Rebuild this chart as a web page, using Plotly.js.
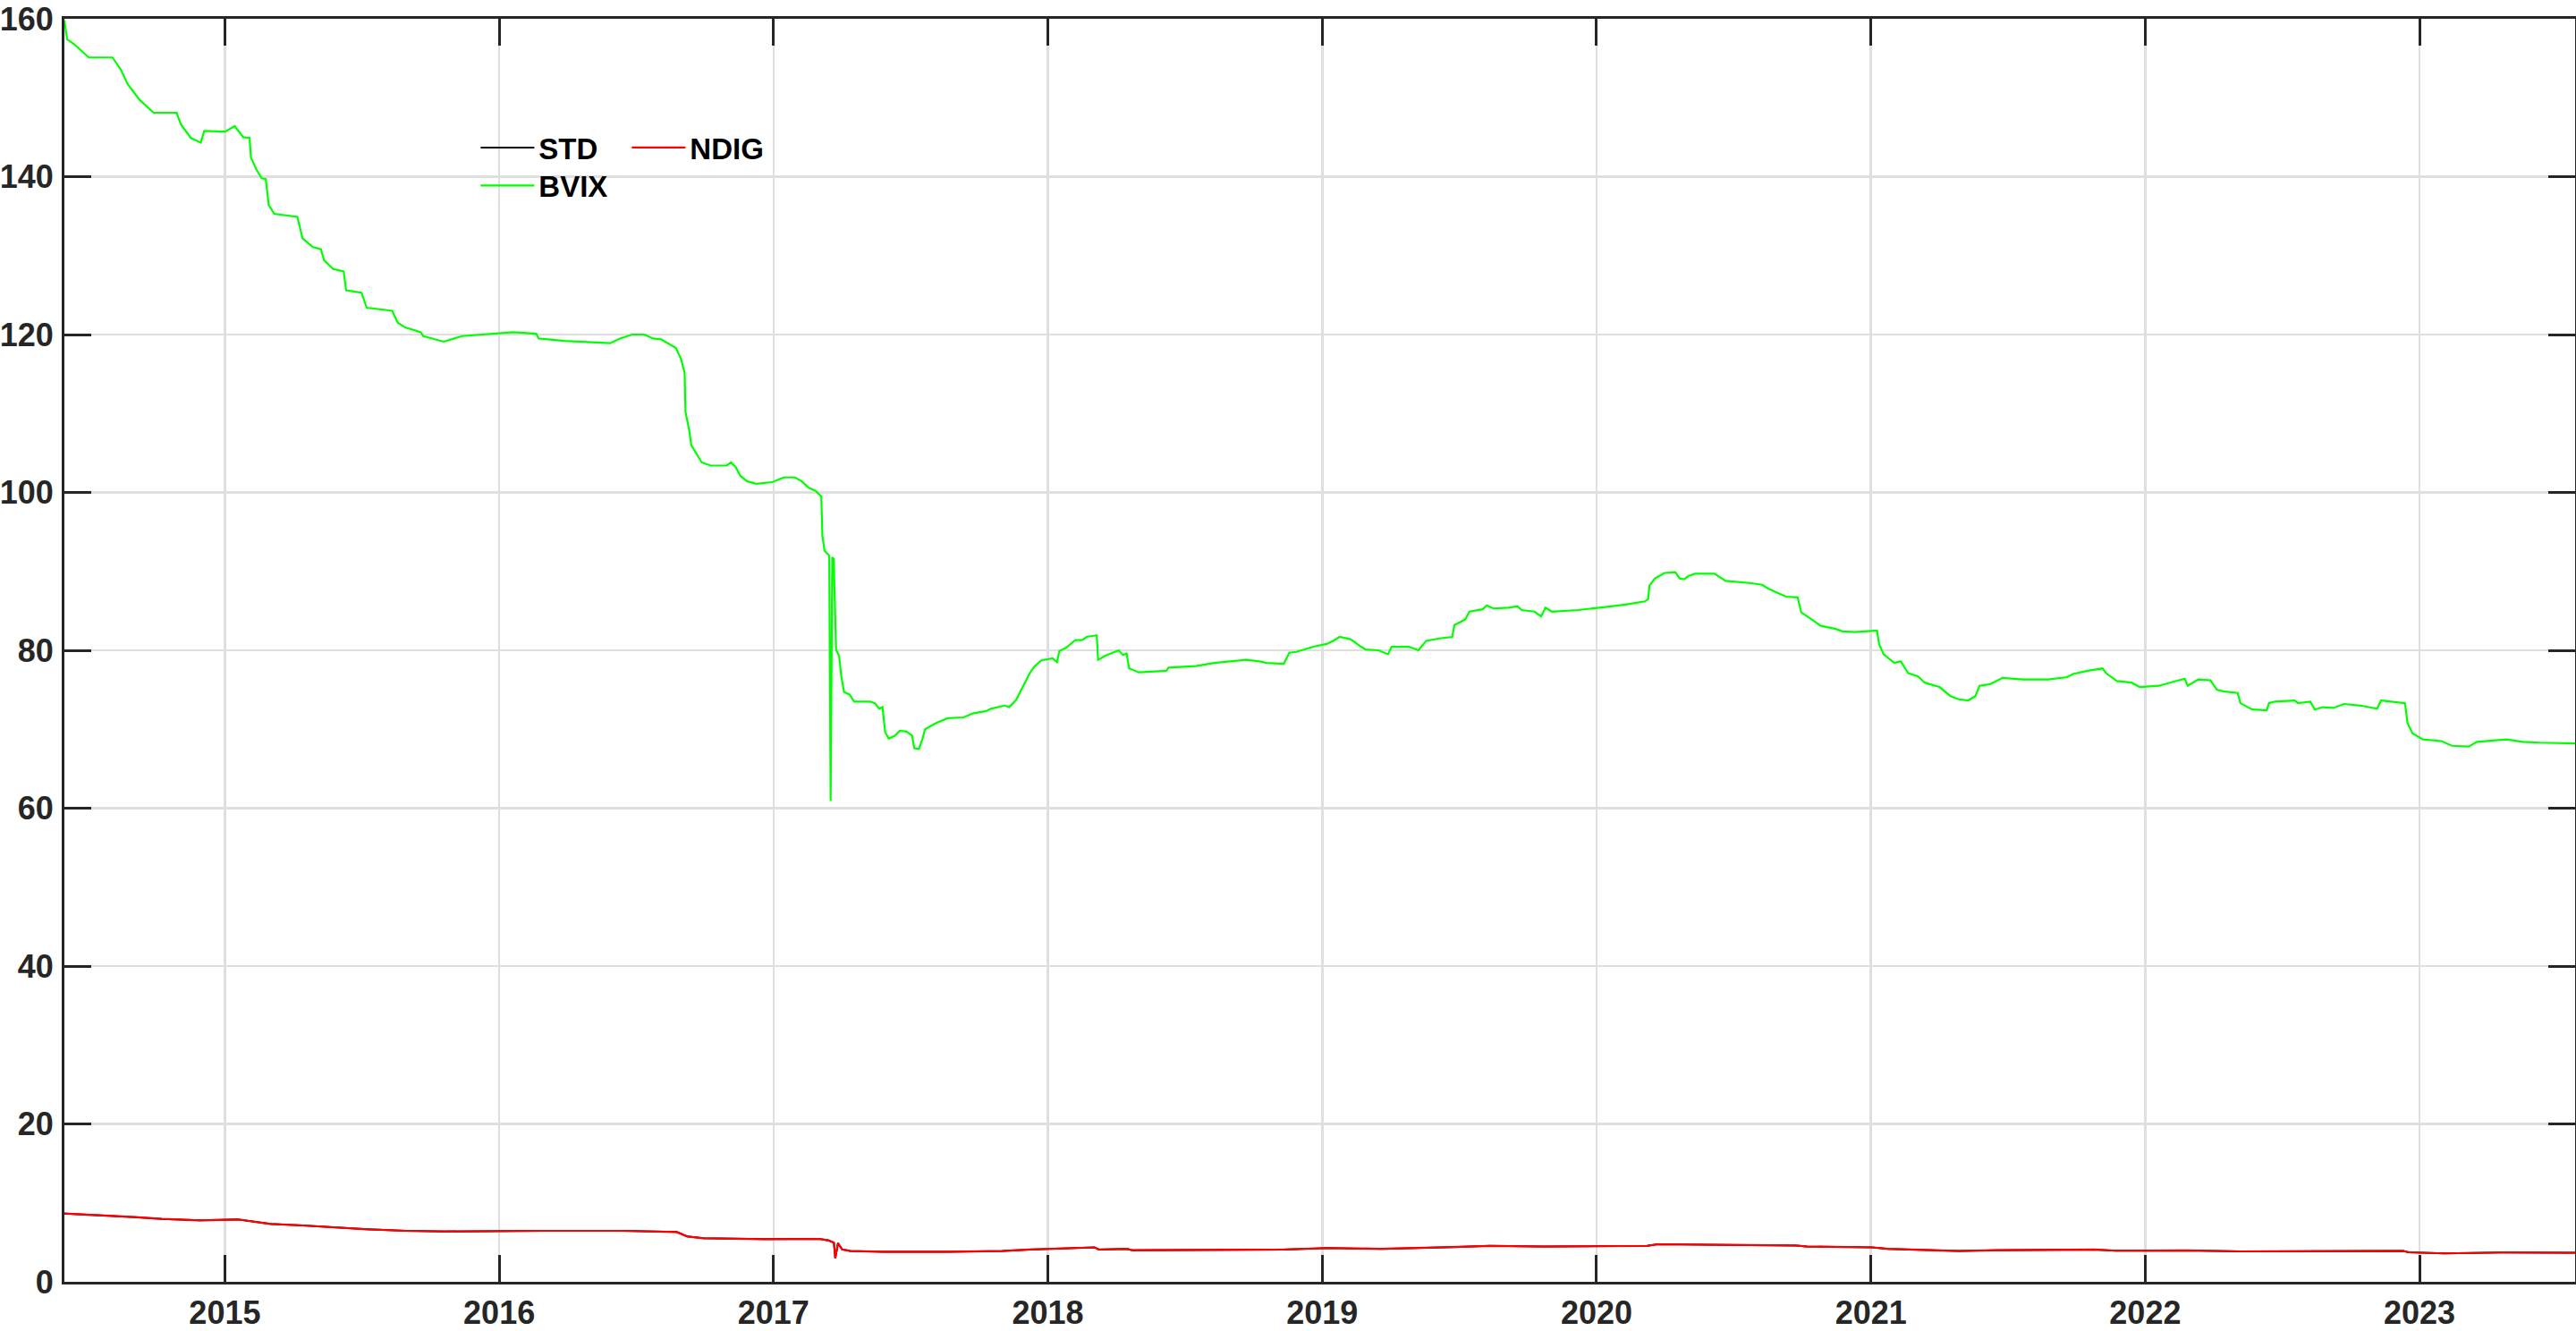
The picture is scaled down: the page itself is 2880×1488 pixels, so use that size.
<!DOCTYPE html>
<html>
<head>
<meta charset="utf-8">
<script src="https://cdn.plot.ly/plotly-3.0.1.min.js"></script>
<style>
  html, body { margin: 0; padding: 0; background: #fff; }
  #myPlot1 { width: 2880px; height: 1488px; }
</style>
</head>
<body>
<div id="myPlot1"></div>
<script>
// values, x in decimal years

var bvixT = [2014.415, 2014.425, 2014.45, 2014.504, 2014.59, 2014.62, 2014.646, 2014.69, 2014.74, 2014.824,
  2014.84, 2014.876, 2014.912, 2014.925, 2015.0, 2015.036, 2015.067, 2015.09, 2015.095, 2015.115,
  2015.134, 2015.149, 2015.16, 2015.18, 2015.264, 2015.283, 2015.32, 2015.35, 2015.362, 2015.395,
  2015.433, 2015.442, 2015.498, 2015.517, 2015.61, 2015.63, 2015.657, 2015.714, 2015.723, 2015.798,
  2015.864, 2015.994, 2016.05, 2016.135, 2016.144, 2016.238, 2016.33, 2016.404, 2016.44, 2016.485,
  2016.53, 2016.56, 2016.59, 2016.62, 2016.644, 2016.663, 2016.676, 2016.679, 2016.693, 2016.70,
  2016.72, 2016.738, 2016.77, 2016.829, 2016.845, 2016.862, 2016.879, 2016.904, 2016.937, 2016.995,
  2017.037, 2017.078, 2017.103, 2017.128, 2017.153, 2017.174, 2017.178, 2017.186, 2017.203, 2017.208,
  2017.214, 2017.219, 2017.228, 2017.239, 2017.247, 2017.257, 2017.277, 2017.294, 2017.352, 2017.369,
  2017.385, 2017.397, 2017.407, 2017.42, 2017.443, 2017.46, 2017.485, 2017.505, 2017.513, 2017.53,
  2017.543, 2017.552, 2017.593, 2017.635, 2017.693, 2017.726, 2017.776, 2017.792, 2017.842, 2017.859,
  2017.884, 2017.917, 2017.934, 2017.95, 2017.975, 2018.017, 2018.033, 2018.042, 2018.066, 2018.1,
  2018.125, 2018.141, 2018.178, 2018.183, 2018.208, 2018.258, 2018.274, 2018.287, 2018.296, 2018.332,
  2018.432, 2018.44, 2018.54, 2018.606, 2018.723, 2018.772, 2018.797, 2018.86, 2018.88, 2018.905,
  2018.968, 2019.016, 2019.04, 2019.063, 2019.103, 2019.142, 2019.158, 2019.205, 2019.24, 2019.253,
  2019.316, 2019.351, 2019.379, 2019.427, 2019.474, 2019.482, 2019.521, 2019.537, 2019.585, 2019.6,
  2019.624, 2019.68, 2019.711, 2019.727, 2019.774, 2019.798, 2019.814, 2019.837, 2019.932, 2020.011,
  2020.106, 2020.177, 2020.188, 2020.193, 2020.213, 2020.248, 2020.287, 2020.303, 2020.319, 2020.335,
  2020.359, 2020.43, 2020.47, 2020.564, 2020.604, 2020.627, 2020.659, 2020.69, 2020.733, 2020.746,
  2020.785, 2020.817, 2020.872, 2020.896, 2020.943, 2021.022, 2021.03, 2021.046, 2021.085, 2021.109,
  2021.136, 2021.172, 2021.196, 2021.25, 2021.29, 2021.32, 2021.355, 2021.381, 2021.396, 2021.434,
  2021.48, 2021.555, 2021.646, 2021.715, 2021.737, 2021.79, 2021.844, 2021.859, 2021.897, 2021.95,
  2021.98, 2022.049, 2022.102, 2022.144, 2022.155, 2022.193, 2022.238, 2022.261, 2022.284, 2022.337,
  2022.347, 2022.39, 2022.443, 2022.451, 2022.473, 2022.545, 2022.557, 2022.602, 2022.618, 2022.648,
  2022.686, 2022.724, 2022.785, 2022.845, 2022.86, 2022.906, 2022.947, 2022.956, 2022.974, 2023.012,
  2023.08, 2023.118, 2023.179, 2023.209, 2023.316, 2023.376, 2023.437, 2023.567];

var bvixVals = [159.8, 157.4, 156.8, 155.1, 155.1, 153.6, 151.7, 149.7, 148.1, 148.1,
  146.6, 144.9, 144.3, 145.8, 145.7, 146.4, 145.0, 144.9, 142.4, 140.9,
  139.8, 139.7, 136.4, 135.3, 134.9, 132.2, 131.1, 130.8, 129.4, 128.3,
  128.0, 125.6, 125.3, 123.4, 123.0, 121.5, 120.9, 120.3, 119.8, 119.1,
  119.8, 120.2, 120.3, 120.1, 119.5, 119.2, 119.0, 118.9, 119.5, 120.0,
  120.0, 119.5, 119.4, 118.8, 118.3, 116.9, 115.1, 110.2, 107.8, 106.0,
  104.8, 103.8, 103.4, 103.4, 103.8, 103.2, 102.1, 101.4, 101.1, 101.3,
  101.9, 101.9, 101.4, 100.6, 100.2, 99.5, 94.5, 92.6, 92.0, 60.9,
  91.8, 91.6, 80.1, 79.3, 76.7, 74.7, 74.4, 73.5, 73.5, 73.3,
  72.6, 72.8, 69.6, 68.8, 69.2, 69.8, 69.7, 69.2, 67.6, 67.5,
  68.8, 70.0, 70.8, 71.4, 71.5, 72.0, 72.3, 72.6, 73.0, 72.8,
  73.7, 75.9, 77.1, 77.9, 78.7, 79.0, 78.5, 79.9, 80.3, 81.3,
  81.3, 81.7, 81.9, 78.8, 79.3, 80.0, 79.4, 79.6, 77.7, 77.2,
  77.4, 77.8, 78.0, 78.4, 78.8, 78.6, 78.4, 78.3, 79.7, 79.8,
  80.45, 80.8, 81.2, 81.7, 81.4, 80.45, 80.1, 80.0, 79.5, 80.45,
  80.45, 80.0, 81.2, 81.5, 81.7, 83.2, 83.9, 84.9, 85.2, 85.7,
  85.3, 85.4, 85.6, 85.1, 84.9, 84.3, 85.4, 84.9, 85.1, 85.4,
  85.8, 86.2, 86.5, 88.2, 89.1, 89.8, 89.9, 89.1, 89.0, 89.4,
  89.7, 89.7, 88.8, 88.5, 88.3, 87.8, 87.3, 86.8, 86.7, 84.8,
  83.9, 83.1, 82.7, 82.4, 82.3, 82.5, 80.8, 79.5, 78.4, 78.6,
  77.1, 76.7, 75.9, 75.35, 74.2, 73.8, 73.65, 74.2, 75.5, 75.7,
  76.5, 76.3, 76.3, 76.6, 77.0, 77.4, 77.7, 77.05, 76.1, 75.9,
  75.35, 75.5, 76.0, 76.4, 75.5, 76.3, 76.2, 75.0, 74.8, 74.6,
  73.3, 72.5, 72.4, 73.3, 73.5, 73.65, 73.3, 73.5, 72.5, 72.8,
  72.7, 73.2, 73.0, 72.6, 73.65, 73.5, 73.3, 70.8, 69.5, 68.7,
  68.5, 67.9, 67.8, 68.4, 68.7, 68.4, 68.3, 68.2];

var ndigT = [2014.415, 2014.574, 2014.672, 2014.77, 2014.909, 2015.047, 2015.087, 2015.166, 2015.284, 2015.363,
  2015.52, 2015.66, 2015.8, 2016.153, 2016.45, 2016.647, 2016.686, 2016.745, 2016.968, 2017.166,
  2017.2, 2017.22, 2017.225, 2017.235, 2017.25, 2017.28, 2017.4, 2017.637, 2017.834, 2017.933,
  2018.03, 2018.17, 2018.186, 2018.288, 2018.308, 2018.624, 2018.86, 2019.02, 2019.215, 2019.473,
  2019.611, 2019.808, 2020.184, 2020.223, 2020.535, 2020.727, 2020.767, 2021.004, 2021.063, 2021.32,
  2021.458, 2021.814, 2021.893, 2022.15, 2022.348, 2022.644, 2022.94, 2022.96, 2023.09, 2023.31,
  2023.567];

var ndigVals = [8.65, 8.39, 8.2, 7.97, 7.78, 7.9, 7.71, 7.33, 7.14, 6.95,
  6.65, 6.46, 6.38, 6.46, 6.46, 6.31, 5.74, 5.52, 5.4, 5.44,
  5.25, 4.95, 3.0, 4.9, 4.1, 3.9, 3.8, 3.8, 3.9, 4.09,
  4.2, 4.36, 4.09, 4.17, 4.0, 4.09, 4.09, 4.28, 4.17, 4.4,
  4.55, 4.47, 4.55, 4.76, 4.68, 4.6, 4.47, 4.36, 4.17, 3.9,
  4.0, 4.09, 3.94, 3.98, 3.85, 3.9, 3.92, 3.74, 3.6, 3.72,
  3.67];

// STD is not visible in the source: it sits under the NDIG line
var stdT = ndigT;
var stdVals = ndigVals;

var tickYears = [2015, 2016, 2017, 2018, 2019, 2020, 2021, 2022, 2023];
var tickYearLabels = ['2015', '2016', '2017', '2018', '2019', '2020', '2021', '2022', '2023'];
var yTicks = [0, 20, 40, 60, 80, 100, 120, 140, 160];

function plotData(){

	var fontFam = 'Liberation Sans, Arial, Helvetica, sans-serif';
	var axisCol = '#262626';

	var trace1 = {x: stdT, y: stdVals, type: 'scatter', mode: 'lines', name: 'STD',
		line: {color: '#000000', width: 2}, legend: 'legend'};
	var trace2 = {x: ndigT, y: ndigVals, type: 'scatter', mode: 'lines', name: 'NDIG',
		line: {color: '#ff0000', width: 2.2}, legend: 'legend'};
	var trace3 = {x: bvixT, y: bvixVals, type: 'scatter', mode: 'lines', name: 'BVIX',
		line: {color: '#00ff00', width: 2.2}, legend: 'legend2'};

	var tickFont = {family: fontFam, size: 36, color: axisCol, weight: 'bold'};
	var legFont = {family: fontFam, size: 33, color: '#000000', weight: 'bold'};

	var plotLayout1 = {
		width: 2880,
		height: 1488,
		margin: {l: 72, r: 1, t: 21, b: 55},
		paper_bgcolor: '#ffffff',
		plot_bgcolor: '#ffffff',
		showlegend: true,
		xaxis: {
			range: [2014.415, 2023.567],
			tickmode: 'array',
			tickvals: tickYears,
			ticktext: tickYearLabels,
			showline: true,
			linecolor: axisCol,
			linewidth: 3,
			mirror: 'ticks',
			ticks: 'inside',
			ticklen: 30,
			tickwidth: 3,
			tickcolor: axisCol,
			showgrid: true,
			gridcolor: '#dfdfdf',
			gridwidth: 2.5,
			zeroline: false,
			tickfont: tickFont,
			ticklabelstandoff: 1,
		},
		yaxis: {
			range: [0, 160],
			tickmode: 'array',
			tickvals: yTicks,
			showline: true,
			linecolor: axisCol,
			linewidth: 3,
			mirror: 'ticks',
			ticks: 'inside',
			ticklen: 30,
			tickwidth: 3,
			tickcolor: axisCol,
			showgrid: true,
			gridcolor: '#dfdfdf',
			gridwidth: 2.5,
			zeroline: false,
			tickfont: tickFont,
			ticklabelstandoff: 2,
		},
		legend: {
			x: 0.164, y: 0.898, xanchor: 'left', yanchor: 'middle',
			orientation: 'h', font: legFont, bgcolor: 'rgba(0,0,0,0)',
			itemwidth: 60, entrywidth: 94, borderwidth: 0,
		},
		legend2: {
			x: 0.164, y: 0.868, xanchor: 'left', yanchor: 'middle',
			orientation: 'h', font: legFont, bgcolor: 'rgba(0,0,0,0)',
			itemwidth: 60, borderwidth: 0,
		},
	};

	var myPlot1 = document.getElementById('myPlot1');
	Plotly.newPlot(myPlot1, [trace1, trace2, trace3], plotLayout1, {displayModeBar: false, staticPlot: true});
}

plotData();
</script>
</body>
</html>
